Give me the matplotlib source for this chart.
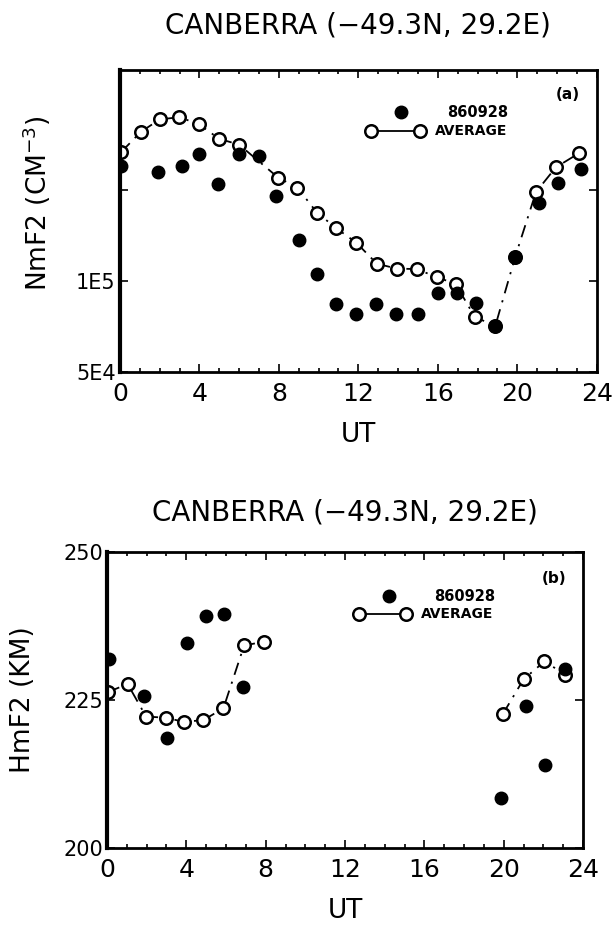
import numpy as np
import matplotlib
matplotlib.use("Agg")
import matplotlib.pyplot as plt
from matplotlib.ticker import FixedLocator, MultipleLocator

plt.rcParams['font.family'] = ['DejaVu Sans']

title_text = "CANBERRA (\u221249.3N, 29.2E)"

# ---- Panel (a): NmF2 ----
nm_day_ut = [0.05, 1.9, 3.1, 4.0, 4.96, 6.0, 6.98, 7.87, 9.0, 9.93, 10.9, 11.9,
             12.9, 13.9, 15.0, 16.0, 16.95, 17.9, 18.9, 19.9, 21.1, 22.07, 23.2]
nm_day = [2.40e5, 2.29e5, 2.40e5, 2.63e5, 2.10e5, 2.64e5, 2.60e5, 1.91e5, 1.365e5,
          1.053e5, 8.42e4, 7.80e4, 8.42e4, 7.78e4, 7.80e4, 9.11e4, 9.11e4, 8.44e4,
          7.12e4, 1.205e5, 1.81e5, 2.12e5, 2.35e5]

nm_avg_ut = [0.05, 1.05, 2.0, 2.98, 3.97, 4.99, 6.0, 7.97, 8.93, 9.92, 10.9, 11.9,
             12.93, 13.93, 14.93, 15.94, 16.9, 17.87, 18.9, 19.9, 20.94, 21.94, 23.1]
nm_avg = [2.67e5, 3.12e5, 3.43e5, 3.49e5, 3.31e5, 2.96e5, 2.83e5, 2.20e5, 2.04e5,
          1.685e5, 1.495e5, 1.34e5, 1.142e5, 1.10e5, 1.096e5, 1.032e5, 9.78e4, 7.59e4,
          7.12e4, 1.205e5, 1.97e5, 2.38e5, 2.65e5]

# ---- Panel (b): HmF2 ----
hm_day_ut = [0.1, 1.87, 3.04, 4.02, 4.98, 5.92, 6.86, 19.87, 21.1, 22.09, 23.1]
hm_day = [232.0, 225.7, 218.6, 234.6, 239.2, 239.5, 227.2, 208.4, 224.0, 214.0, 230.2]

hm_avg_ut = [0.03, 1.04, 1.97, 2.96, 3.88, 4.86, 5.87, 6.91, 7.93, 14.0,
             19.95, 21.0, 22.05, 23.1]
hm_avg = [226.3, 227.7, 222.2, 222.0, 221.3, 221.6, 223.6, 234.2, 234.85, np.nan,
          222.6, 228.5, 231.5, 229.3]

xticks = [0, 4, 8, 12, 16, 20, 24]

fig = plt.figure(figsize=(6.12, 9.30), dpi=100)

ax1 = fig.add_axes([0.196, 0.600, 0.779, 0.3247])
ax2 = fig.add_axes([0.1748, 0.0882, 0.778, 0.3183])

line_style = (0, (7, 4, 1.2, 4))

def style_axes(ax):
    for s in ax.spines.values():
        s.set_linewidth(2.0)
    ax.spines['left'].set_linewidth(3.0)
    ax.set_xlim(0, 24)
    ax.xaxis.set_major_locator(FixedLocator(xticks))
    ax.xaxis.set_minor_locator(MultipleLocator(1))
    ax.tick_params(axis='both', which='both', direction='in', top=True, right=True,
                   width=1.2)
    ax.tick_params(axis='x', which='major', length=6, labelsize=18, pad=7)
    ax.tick_params(axis='x', which='minor', length=3)
    ax.tick_params(axis='y', which='major', length=6, labelsize=15, pad=3)
    ax.set_xlabel("UT", fontsize=19, labelpad=12)

# Panel (a)
ax1.set_yscale('log')
ax1.set_ylim(5e4, 5e5)
ax1.plot(nm_avg_ut, nm_avg, color='black', lw=1.3, ls=line_style, marker='o',
         ms=9, mfc='white', mec='black', mew=1.8, zorder=2)
ax1.plot(nm_day_ut, nm_day, ls='none', marker='o', ms=9, color='black', zorder=3)
style_axes(ax1)
ax1.yaxis.set_major_locator(FixedLocator([5e4, 1e5, 2e5]))
ax1.yaxis.set_minor_locator(FixedLocator([]))
ax1.set_yticklabels(['5E4', '1E5', ''])
ax1.set_ylabel("NmF2 (CM$^{-3}$)", fontsize=19)
ax1.yaxis.set_label_coords(-0.14, 0.56)
ax1.set_title(title_text, fontsize=20, pad=26)
ax1.text(0.965, 0.92, "(a)", transform=ax1.transAxes, ha='right', va='center',
         fontsize=11, fontweight='bold')
# legend (a)
ax1.plot([0.59], [0.86], transform=ax1.transAxes, marker='o', ms=9, color='black',
         ls='none', clip_on=False)
ax1.plot([0.527, 0.629], [0.797, 0.797], transform=ax1.transAxes, color='black',
         lw=1.3, marker='o', ms=9, mfc='white', mec='black', mew=1.8, clip_on=False)
ax1.text(0.815, 0.86, "860928", transform=ax1.transAxes, ha='right', va='center',
         fontsize=10.5, fontweight='bold')
ax1.text(0.66, 0.797, "AVERAGE", transform=ax1.transAxes, ha='left', va='center',
         fontsize=10, fontweight='bold')

# Panel (b)
ax2.set_ylim(200, 250)
ax2.plot(hm_avg_ut, hm_avg, color='black', lw=1.3, ls=line_style, marker='o',
         ms=9, mfc='white', mec='black', mew=1.8, zorder=2)
ax2.plot(hm_day_ut, hm_day, ls='none', marker='o', ms=9, color='black', zorder=3)
style_axes(ax2)
ax2.yaxis.set_major_locator(FixedLocator([200, 225, 250]))
ax2.set_ylabel("HmF2 (KM)", fontsize=19)
ax2.yaxis.set_label_coords(-0.15, 0.5)
ax2.set_title(title_text, fontsize=20, pad=23)
ax2.text(0.965, 0.91, "(b)", transform=ax2.transAxes, ha='right', va='center',
         fontsize=11, fontweight='bold')
ax2.plot([0.592], [0.85], transform=ax2.transAxes, marker='o', ms=9, color='black',
         ls='none', clip_on=False)
ax2.plot([0.53, 0.627], [0.79, 0.79], transform=ax2.transAxes, color='black',
         lw=1.3, marker='o', ms=9, mfc='white', mec='black', mew=1.8, clip_on=False)
ax2.text(0.815, 0.85, "860928", transform=ax2.transAxes, ha='right', va='center',
         fontsize=10.5, fontweight='bold')
ax2.text(0.66, 0.79, "AVERAGE", transform=ax2.transAxes, ha='left', va='center',
         fontsize=10, fontweight='bold')

fig.savefig("out.png", dpi=100, facecolor='white')
